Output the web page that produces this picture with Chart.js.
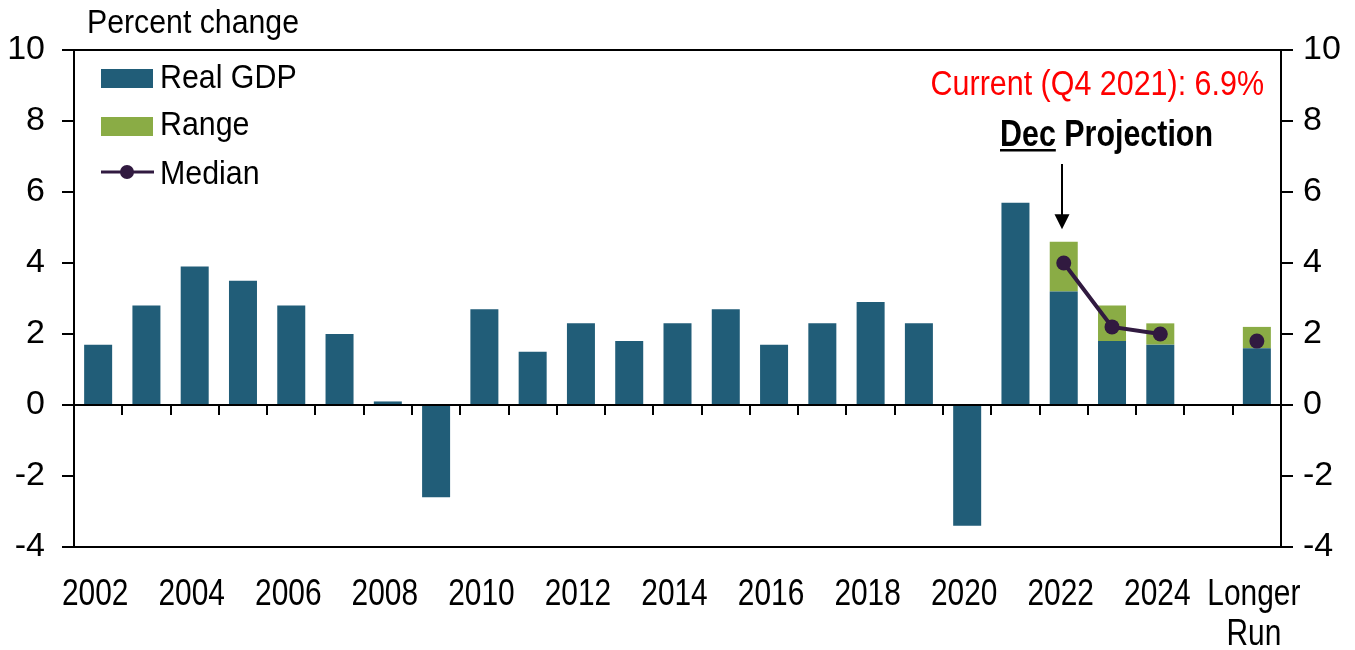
<!DOCTYPE html>
<html>
<head>
<meta charset="utf-8">
<script src="https://cdn.jsdelivr.net/npm/chart.js@4/dist/chart.umd.min.js"></script>
<style>
  html, body { margin: 0; padding: 0; background: #fff; }
  #wrap { width: 1355px; height: 650px; position: relative; }
</style>
</head>
<body>
<div id="wrap"><canvas id="c"></canvas></div>
<script>
// ---- Data ----
const categories = ['2002','2003','2004','2005','2006','2007','2008','2009','2010','2011','2012','2013',
  '2014','2015','2016','2017','2018','2019','2020','2021','2022','2023','2024','','Longer Run'];
const tickLabels = ['2002','','2004','','2006','','2008','','2010','','2012','',
  '2014','','2016','','2018','','2020','','2022','','2024','',['Longer','Run']];
// Real GDP (history) and low end of the projection range
const realGDP = [1.7, 2.8, 3.9, 3.5, 2.8, 2.0, 0.1, -2.6, 2.7, 1.5, 2.3, 1.8,
  2.3, 2.7, 1.7, 2.3, 2.9, 2.3, -3.4, 5.7, 3.2, 1.8, 1.7, null, 1.6];
const rangeHigh = [null,null,null,null,null,null,null,null,null,null,null,null,
  null,null,null,null,null,null,null,null,4.6, 2.8, 2.3, null, 2.2];
const median = [null,null,null,null,null,null,null,null,null,null,null,null,
  null,null,null,null,null,null,null,null,4.0, 2.2, 2.0, null, 1.8];
const yTicks = [-4, -2, 0, 2, 4, 6, 8, 10];

const rangeSpan = rangeHigh.map((h, i) => (h == null ? null : +(h - realGDP[i]).toFixed(2)));

const FONT = "'Liberation Sans', Arial, sans-serif";
const BLUE = '#215d78';
const GREEN = '#8aac45';
const PURPLE = '#311a40';

// draw horizontally condensed text (the original uses a narrow typeface)
function condText(ctx, text, x, y, sx, align) {
  ctx.save();
  ctx.translate(x, y);
  ctx.scale(sx, 1);
  ctx.textAlign = align || 'left';
  ctx.textBaseline = 'alphabetic';
  ctx.fillText(text, 0, 0);
  ctx.restore();
}

const overlay = {
  id: 'overlay',
  afterDatasetsDraw(chart) {
    const {ctx, chartArea: a, scales: {x, y}} = chart;
    ctx.save();
    ctx.strokeStyle = '#000';
    ctx.lineWidth = 2;
    ctx.strokeRect(a.left, a.top, a.right - a.left, a.bottom - a.top);
    const y0 = Math.round(y.getPixelForValue(0));
    ctx.beginPath();
    ctx.moveTo(a.left, y0); ctx.lineTo(a.right, y0);
    ctx.stroke();
    ctx.beginPath();
    for (let i = 0; i < categories.length - 1; i++) {
      const bx = Math.round((x.getPixelForValue(i) + x.getPixelForValue(i + 1)) / 2);
      ctx.moveTo(bx, y0); ctx.lineTo(bx, y0 + 10);
    }
    ctx.stroke();
    ctx.restore();
  },
  afterDraw(chart) {
    const {ctx, chartArea: a, scales: {x, y}} = chart;
    ctx.save();
    ctx.fillStyle = '#000';

    // x tick labels
    ctx.font = `36px ${FONT}`;
    const base = a.bottom + 58;
    tickLabels.forEach((lab, i) => {
      if (!lab) return;
      const px = x.getPixelForValue(i) - 3;
      const lines = Array.isArray(lab) ? lab : [lab];
      lines.forEach((ln, k) => condText(ctx, ln, px, base + k * 40, 0.83, 'center'));
    });

    // axis title
    ctx.font = `34px ${FONT}`;
    condText(ctx, 'Percent change', 87, 33, 0.89, 'left');

    // legend
    const ds = chart.data.datasets;
    ctx.fillStyle = BLUE; ctx.fillRect(101, 69, 52, 19);
    ctx.fillStyle = GREEN; ctx.fillRect(101, 117, 52, 19);
    ctx.strokeStyle = PURPLE; ctx.lineWidth = 3;
    ctx.beginPath(); ctx.moveTo(101, 172); ctx.lineTo(154, 172); ctx.stroke();
    ctx.fillStyle = PURPLE;
    ctx.beginPath(); ctx.arc(127, 172, 7, 0, Math.PI * 2); ctx.fill();
    ctx.fillStyle = '#000';
    ctx.font = `33px ${FONT}`;
    condText(ctx, ds[0].label, 160, 88, 0.92);
    condText(ctx, ds[1].label, 160, 135, 0.92);
    condText(ctx, ds[2].label, 160, 184, 0.92);

    // annotations
    ctx.fillStyle = '#ff0000';
    ctx.font = `35px ${FONT}`;
    condText(ctx, 'Current (Q4 2021): 6.9%', a.right - 17, 95, 0.87, 'right');

    ctx.fillStyle = '#000';
    ctx.font = `bold 36px ${FONT}`;
    const sx = 0.845, tx = 1000, ty = 146;
    const wDec = ctx.measureText('Dec').width * sx;
    const wSp = ctx.measureText(' ').width * sx;
    condText(ctx, 'Dec', tx, ty, sx);
    condText(ctx, 'Projection', tx + wDec + wSp, ty, sx);
    ctx.fillRect(tx, ty + 3, wDec, 2.5);

    // arrow pointing at 2022 projection
    const ax = Math.round(x.getPixelForValue(20)) - 2;
    const tipY = y.getPixelForValue(4.95);
    ctx.strokeStyle = '#000'; ctx.lineWidth = 2;
    ctx.beginPath(); ctx.moveTo(ax, 164); ctx.lineTo(ax, tipY - 12); ctx.stroke();
    ctx.beginPath();
    ctx.moveTo(ax - 7.5, tipY - 15); ctx.lineTo(ax + 7.5, tipY - 15); ctx.lineTo(ax, tipY);
    ctx.closePath(); ctx.fill();
    ctx.restore();
  }
};

const yAxisCommon = {
  min: -4, max: 10,
  afterBuildTicks(s) { s.ticks = yTicks.map(v => ({value: v})); },
  grid: { drawOnChartArea: false, drawTicks: true, tickLength: 12, color: '#000', lineWidth: 2 },
  border: { display: false },
};

new Chart(document.getElementById('c'), {
  data: {
    labels: categories,
    datasets: [
      { type: 'bar', label: 'Real GDP', data: realGDP, backgroundColor: BLUE, stack: 'a', order: 1,
        barPercentage: 0.58, categoryPercentage: 1 },
      { type: 'bar', label: 'Range', data: rangeSpan, backgroundColor: GREEN, stack: 'a', order: 1,
        barPercentage: 0.58, categoryPercentage: 1 },
      { type: 'line', label: 'Median', data: median, borderColor: PURPLE, backgroundColor: PURPLE,
        borderWidth: 4, pointRadius: 7.5, pointHoverRadius: 7.5, pointBorderWidth: 0,
        spanGaps: false, stack: 'm', order: 0 }
    ]
  },
  options: {
    responsive: true,
    maintainAspectRatio: false,
    animation: false,
    layout: { padding: { top: 50, left: 0, right: 0, bottom: 0 } },
    plugins: { legend: { display: false }, tooltip: { enabled: false } },
    scales: {
      x: {
        stacked: true,
        grid: { display: false, drawTicks: false },
        border: { display: false },
        ticks: { display: false, autoSkip: false },
        afterFit(s) { s.height = 103; }
      },
      y: Object.assign({}, yAxisCommon, {
        position: 'left', stacked: true,
        ticks: { color: '#000', padding: 17, font: { family: FONT, size: 34 } },
        afterFit(s) { s.width = 74; }
      }),
      y2: Object.assign({}, yAxisCommon, {
        position: 'right',
        ticks: { color: '#000', padding: 10, font: { family: FONT, size: 34 } },
        afterFit(s) { s.width = 74; }
      })
    }
  },
  plugins: [overlay]
});
</script>
</body>
</html>
